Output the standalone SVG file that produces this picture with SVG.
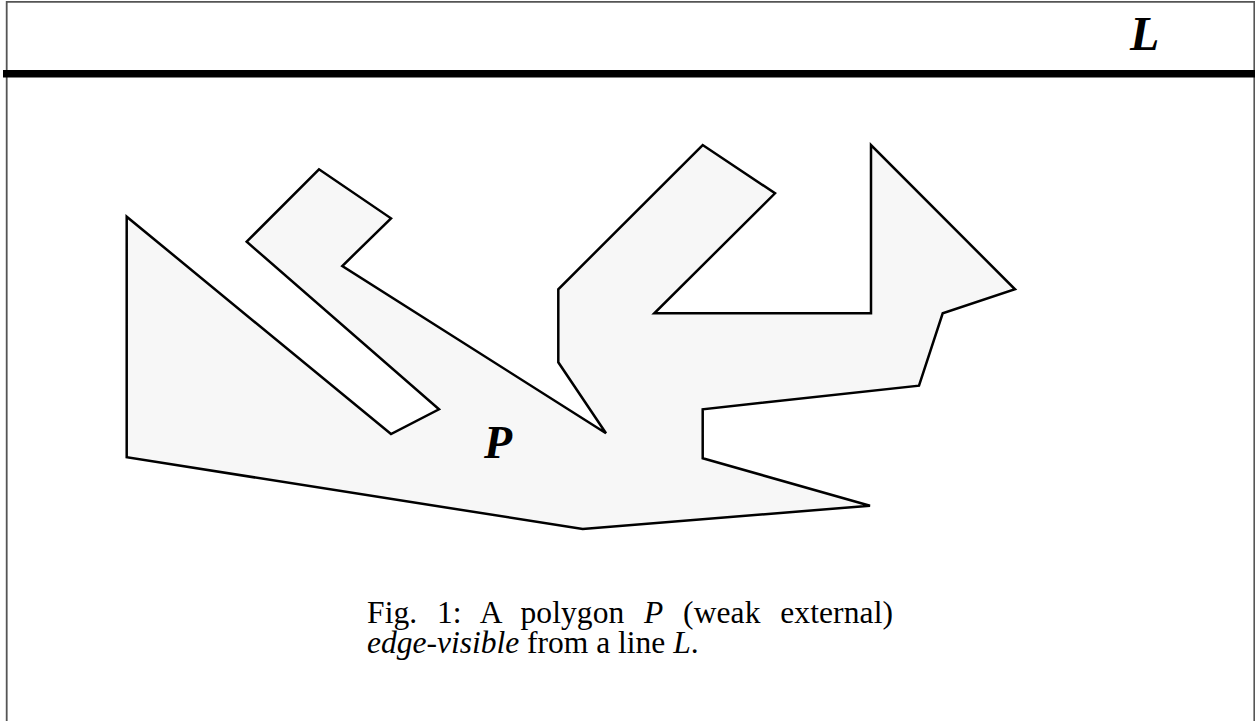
<svg xmlns="http://www.w3.org/2000/svg" width="1255" height="721" viewBox="0 0 1255 721">
<style>
.frame{fill:none;stroke:#555;stroke-width:1.8}
.poly{fill:#f7f7f7;stroke:#000;stroke-width:2.5;stroke-linejoin:miter}
.lbl{font-family:"Liberation Serif","Times New Roman",serif;font-weight:bold;font-style:italic;fill:#000}
.cap{font-family:"Liberation Serif","Times New Roman",serif;font-size:31.5px;fill:#000}
.it{font-style:italic}
</style>
<rect width="1255" height="721" fill="#fff"/>
<g id="frame">
<path class="frame" d="M6.7,730 V1.8 H1254.3 V730"/>
</g>
<g id="line-L">
<rect x="3" y="70" width="1252" height="7.5" fill="#000"/>
<text class="lbl" x="1130" y="50" font-size="48">L</text>
</g>
<g id="polygon-P">
<polygon class="poly" points="126.7,216.7 126.7,457.3 582.7,529 870,505.7 702.7,458.3 702.7,409.3 919,385.7 942.7,313.3 1015,289.3 871,145 871,313.3 654.3,313.3 775,193.3 702.7,145 558.3,289.3 558.3,362.3 606,433.3 342.3,266 391,218.3 319,169.3 246.7,241.7 439,409.3 391,434"/>
<text class="lbl" x="484" y="458" font-size="46">P</text>
</g>
<g id="caption">
<text class="cap" x="367" y="623" textLength="526" lengthAdjust="spacing" word-spacing="11.7">Fig. 1: A polygon <tspan class="it">P</tspan> (weak external)</text>
<text class="cap" x="367" y="653"><tspan class="it">edge-visible</tspan> from a line <tspan class="it">L</tspan>.</text>
</g>
</svg>
